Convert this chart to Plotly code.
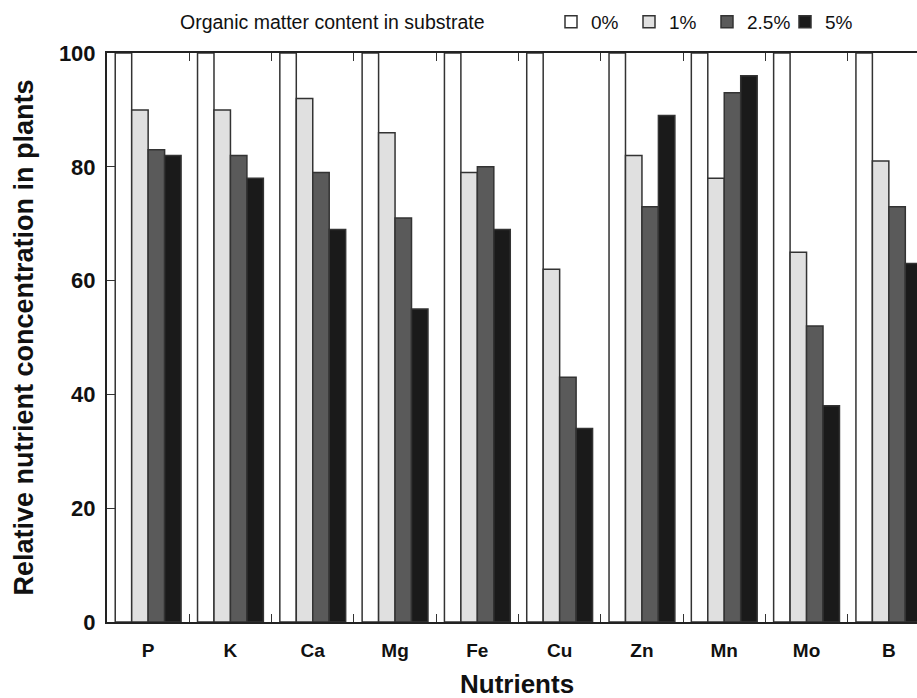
import plotly.graph_objects as go

nutrients = ["P", "K", "Ca", "Mg", "Fe", "Cu", "Zn", "Mn", "Mo", "B"]
series_names = ["0%", "1%", "2.5%", "5%"]
om_0 = [100, 100, 100, 100, 100, 100, 100, 100, 100, 100]
om_1 = [90, 90, 92, 86, 79, 62, 82, 78, 65, 81]
om_25 = [83, 82, 79, 71, 80, 43, 73, 93, 52, 73]
om_5 = [82, 78, 69, 55, 69, 34, 89, 96, 38, 63]
y_ticks = [0, 20, 40, 60, 80, 100]

colors = ["#ffffff", "#e0e0e0", "#5a5a5a", "#1a1a1a"]
FONT = "Liberation Sans, Arial, Helvetica, sans-serif"

fig = go.Figure()
for name, vals, col in zip(series_names, [om_0, om_1, om_25, om_5], colors):
    fig.add_trace(go.Bar(
        x=nutrients, y=vals, name=name,
        marker=dict(color=col, line=dict(color="#333333", width=1.5)),
    ))

W, H = 917, 698
L, R, T, B = 107, 0, 53, 76
pw = W - L - R
ph = H - T - B
cat_px = 82.3
x_hi = -0.5 + pw / cat_px

fig.update_layout(
    template="none",
    width=W, height=H,
    margin=dict(l=L, r=R, t=T, b=B, autoexpand=False),
    paper_bgcolor="white", plot_bgcolor="white",
    barmode="group", bargap=0.2, bargroupgap=0,
    font=dict(family=FONT, color="#111111"),
    showlegend=True,
    legend=dict(
        orientation="h", xref="container", yref="container",
        x=551 / W, xanchor="left",
        y=1 - 22 / H, yanchor="middle",
        font=dict(size=19, family=FONT, color="#111111"),
        itemwidth=30, tracegroupgap=0,
        entrywidth=33, entrywidthmode="pixels",
        bgcolor="rgba(0,0,0,0)", borderwidth=0,
    ),
    xaxis=dict(
        type="category", range=[-0.5, x_hi], automargin=False,
        tickson="boundaries", ticks="inside", ticklen=8, tickwidth=1, tickcolor="#333333",
        showline=True, linewidth=2, linecolor="#222222", mirror="ticks",
        showgrid=False, zeroline=False,
        tickfont=dict(size=19, family=FONT, color="#111111", weight="bold"),
        ticklabelstandoff=10,
    ),
    yaxis=dict(
        range=[0, 100], tickvals=y_ticks, automargin=False,
        ticks="inside", ticklen=8, tickwidth=1, tickcolor="#333333",
        showline=True, linewidth=2, linecolor="#222222", mirror=False,
        showgrid=False, zeroline=False,
        tickfont=dict(size=22, family=FONT, color="#111111", weight="bold"),
        ticklabelstandoff=5,
    ),
    annotations=[
        dict(text="Organic matter content in substrate", xref="paper", yref="paper",
             x=(332.5 - L) / pw, y=1 + (T - 22) / ph, xanchor="center", yanchor="middle",
             showarrow=False, font=dict(size=19.5, family=FONT, color="#111111")),
        dict(text="Nutrients", xref="paper", yref="paper",
             x=(517 - L) / pw, y=-(684 - (H - B)) / ph, xanchor="center", yanchor="middle",
             showarrow=False, font=dict(size=26, family=FONT, color="#111111", weight="bold")),
        dict(text="Relative nutrient concentration in plants", xref="paper", yref="paper",
             x=-(107 - 23) / pw, y=0.5, xanchor="center", yanchor="middle",
             textangle=-90, showarrow=False,
             font=dict(size=27, family=FONT, color="#111111", weight="bold")),
    ],
)

fig.write_html("out.html", config={"displayModeBar": False},
               post_script="document.body.style.margin='0px';")
